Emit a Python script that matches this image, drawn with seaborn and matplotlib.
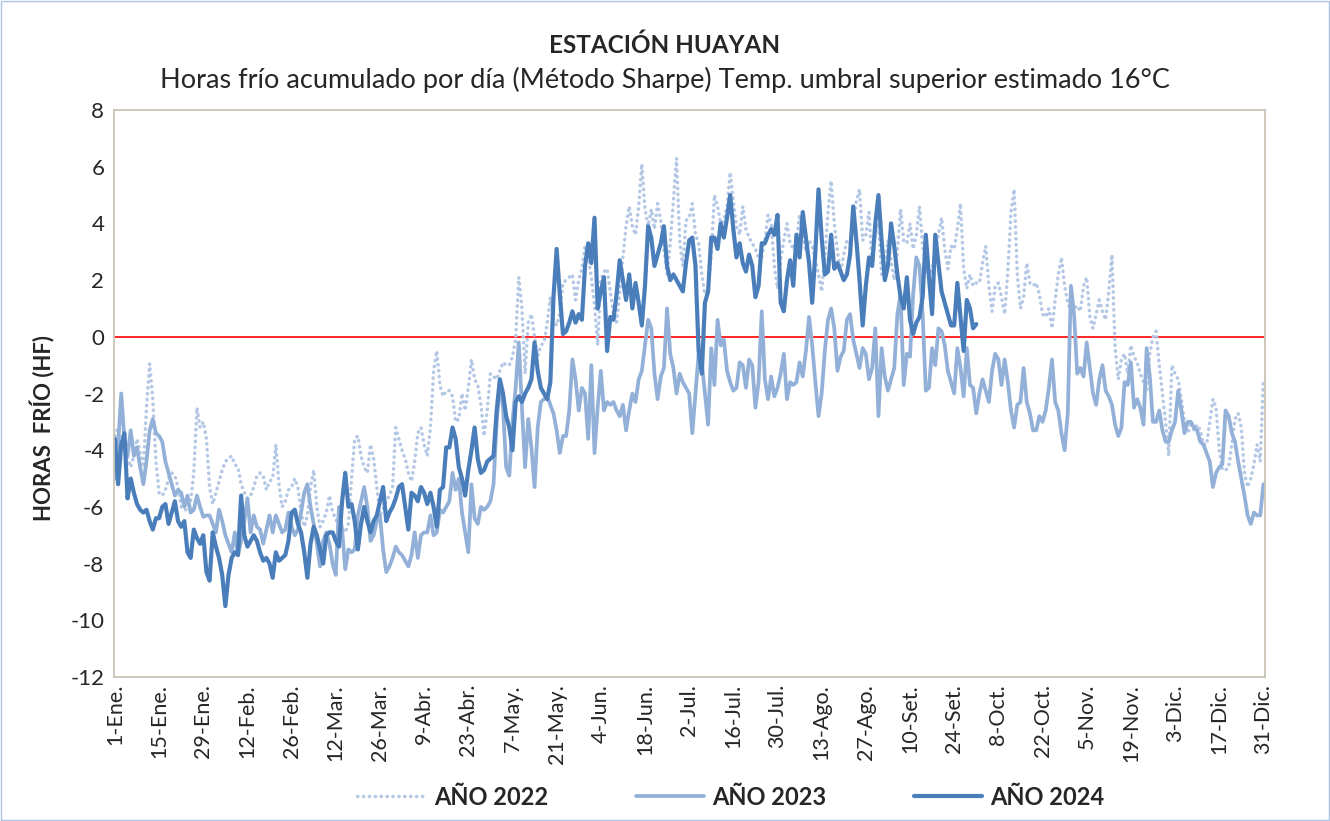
import numpy as np
import pandas as pd
import matplotlib.pyplot as plt
import seaborn as sns
from matplotlib.lines import Line2D
from matplotlib.patches import Rectangle

# etiquetas del eje x (cada 14 dias)
etiquetas = ["1-Ene.", "15-Ene.", "29-Ene.", "12-Feb.", "26-Feb.", "12-Mar.", "26-Mar.",
             "9-Abr.", "23-Abr.", "7-May.", "21-May.", "4-Jun.", "18-Jun.", "2-Jul.",
             "16-Jul.", "30-Jul.", "13-Ago.", "27-Ago.", "10-Set.", "24-Set.", "8-Oct.",
             "22-Oct.", "5-Nov.", "19-Nov.", "3-Dic.", "17-Dic.", "31-Dic."]

# horas frio por dia
hf_2022 = [
    -3.5, -3.2, -3.8, -3.9, -4.3, -4.6, -4.2, -3.6, -4.1, -4.6,
    -2.5, -0.95, -2.2, -4.4, -5.5, -5.6, -5.4, -5.0, -4.8, -4.9,
    -5.3, -6.0, -6.1, -6.1, -5.8, -4.8, -2.5, -3.2, -3.0, -3.6,
    -5.3, -5.9, -5.5, -5.1, -4.7, -4.4, -4.3, -4.2, -4.5, -4.6,
    -5.2, -5.5, -5.7, -5.6, -5.3, -4.9, -4.8, -4.9, -5.4, -5.1,
    -5.0, -3.8, -5.2, -6.0, -5.8, -5.4, -5.3, -5.0, -5.3, -6.2,
    -6.7, -6.3, -5.3, -4.7, -6.0, -6.7, -6.5, -6.2, -5.6, -6.2,
    -6.4, -6.9, -6.8, -6.9, -6.6, -5.0, -3.6, -3.5, -4.2, -4.6,
    -4.8, -3.8, -4.3, -5.3, -6.3, -6.1, -5.8, -5.6, -5.3, -3.2,
    -3.6, -4.0, -4.3, -4.8, -5.1, -4.4, -3.4, -3.2, -3.8, -4.2,
    -3.2, -1.2, -0.5, -1.7, -2.1, -1.9, -1.9, -2.1, -3.0, -2.9,
    -2.0, -2.6, -1.8, -0.8, -1.5, -1.7, -2.4, -3.5, -2.6, -1.3,
    -1.4, -1.5, -1.2, -0.9, -1.0, -1.0, -0.7, -0.1, 2.1, 1.0,
    -1.3, 0.5, 0.8, 0.0, -0.7, -0.3, -0.2, 0.5, 1.4, 0.6,
    0.4, 0.8, 1.9, 2.0, 2.1, 2.2, 1.3, 2.0, 2.4, 3.2,
    2.8, 2.1, 1.1, -0.3, 2.0, 2.3, 2.4, 1.6, 0.8, 0.5,
    1.6, 2.8, 3.9, 4.6, 3.9, 3.6, 4.6, 6.1, 4.5, 3.9,
    4.5, 3.8, 4.7, 4.1, 3.1, 2.2, 3.3, 4.8, 6.3, 3.4,
    2.5, 4.1, 4.2, 4.7, 3.6, 3.3, 2.2, 1.5, 1.6, 2.9,
    5.0, 4.6, 4.0, 4.1, 4.6, 5.8, 4.8, 3.9, 3.6, 4.6,
    3.8, 3.5, 3.3, 3.1, 2.8, 2.8, 3.4, 4.3, 4.0, 2.5,
    1.7, 2.7, 3.4, 4.0, 3.3, 3.1, 3.4, 4.3, 3.6, 3.0,
    3.4, 3.2, 2.7, 2.2, 1.6, 2.8, 4.4, 5.5, 4.0, 3.0,
    2.3, 2.9, 3.4, 3.3, 4.0, 4.8, 5.2, 3.4, 3.6, 4.4,
    2.5, 3.6, 4.0, 2.2, 2.6, 3.4, 2.7, 2.0, 3.0, 4.5,
    3.4, 3.3, 4.0, 3.1, 3.6, 4.6, 3.2, 2.5, 2.1, 2.4,
    3.0, 3.6, 4.2, 3.1, 2.4, 3.2, 3.1, 3.8, 4.7, 2.4,
    1.7, 2.2, 1.8, 1.9, 1.9, 2.6, 3.2, 1.8, 0.9, 1.8,
    1.9, 1.4, 0.8, 2.3, 4.4, 5.2, 2.2, 1.0, 1.4, 2.6,
    1.9, 1.8, 1.9, 1.5, 0.8, 0.7, 1.0, 0.3, 1.3, 2.2,
    2.8, 1.8, 1.2, 0.9, 1.0, 1.1, 0.9, 1.8, 2.1, 0.7,
    0.3, 0.8, 1.3, 0.9, 0.6, 1.6, 2.9, -0.4, -1.5, -0.8,
    -0.6, -1.3, -0.3, -0.7, -0.9, -1.3, -1.6, -1.9, -0.6, 0.0,
    0.2, -1.0, -2.0, -3.0, -4.2, -1.0, -1.3, -1.5, -2.2, -3.0,
    -3.4, -3.1, -3.3, -3.1, -3.3, -3.8, -3.8, -3.0, -2.2, -2.5,
    -4.0, -4.7, -4.7, -4.6, -3.8, -2.9, -2.7, -3.2, -4.8, -5.3,
    -5.0, -4.5, -3.8, -4.4, -1.5]

hf_2023 = [
    -5.0, -3.8, -2.0, -3.6, -4.2, -3.3, -4.2, -3.9, -4.6, -5.2,
    -4.4, -3.3, -2.9, -3.4, -3.5, -3.7, -4.4, -4.8, -5.2, -5.6,
    -5.4, -5.5, -6.0, -5.6, -6.2, -6.1, -5.6, -6.0, -6.35, -6.3,
    -6.3, -6.6, -6.9, -6.1, -6.5, -7.0, -7.3, -7.6, -6.9, -7.7,
    -7.2, -6.5, -5.7, -6.9, -6.3, -6.7, -6.8, -7.3, -6.8, -6.3,
    -6.9, -6.3, -6.6, -6.9, -6.8, -6.2, -6.7, -7.0, -6.8, -6.2,
    -5.5, -5.2, -6.0, -6.6, -7.3, -8.1, -7.2, -6.9, -7.3, -8.0,
    -8.4, -6.0, -6.8, -8.2, -7.5, -7.6, -7.5, -6.3, -5.8, -5.3,
    -6.0, -7.2, -7.0, -6.5, -6.3, -7.5, -8.3, -8.1, -7.8, -7.4,
    -7.6, -7.7, -7.9, -8.1, -7.7, -6.9, -7.8, -7.0, -6.9, -6.9,
    -6.3, -7.0, -6.9, -6.1, -6.2, -6.0, -5.8, -4.8, -5.4, -5.0,
    -6.2, -6.9, -7.6, -5.2, -6.4, -6.6, -6.0, -6.1, -6.0, -5.8,
    -5.2, -3.0, -1.6, -2.5, -4.6, -4.9, -3.0, -1.8, -0.2, -2.5,
    -4.6, -2.9, -3.9, -5.3, -3.2, -2.3, -2.2, -2.1, -2.4, -2.7,
    -3.3, -4.1, -3.5, -3.5, -2.6, -0.8, -1.5, -2.6, -1.8, -2.0,
    -3.6, -1.0, -4.1, -2.5, -1.2, -2.6, -2.3, -2.4, -2.3, -2.6,
    -2.8, -2.4, -3.3, -2.6, -2.0, -2.3, -1.5, -1.2, -0.3, 0.6,
    0.3, -1.3, -2.2, -1.4, -1.1, 1.0, -0.6, -1.1, -2.0, -1.3,
    -1.6, -1.8, -2.0, -3.4, -2.0, -0.6, -0.9, -2.0, -3.1, -0.4,
    -1.7, 0.6, -0.3, -0.1, -1.2, -1.6, -1.9, -1.8, -0.9, -1.0,
    -1.8, -0.8, -1.0, -2.5, -1.6, 0.9, -1.5, -2.2, -1.4, -2.1,
    -1.8, -1.3, -0.6, -2.2, -1.6, -1.7, -1.6, -0.9, -1.4, -0.5,
    0.7, -0.3, -1.6, -2.8, -2.0, -0.5, 0.6, 1.0, 0.3, -1.2,
    -0.7, -0.5, 0.6, 0.8, -0.1, -0.6, -1.1, -0.4, -0.6, -1.5,
    -1.1, 0.3, -2.8, -0.4, -1.4, -1.9, -1.5, -1.1, 0.8, 1.5,
    -1.7, -0.6, -0.7, 1.5, 2.8, 2.5, 0.8, -1.9, -1.8, -0.4,
    -1.0, 0.3, 0.2, -0.3, -1.2, -1.6, -2.0, -0.4, -1.1, -2.1,
    -0.4, -1.7, -1.8, -2.7, -2.0, -1.5, -1.9, -2.3, -1.2, -0.6,
    -0.8, -1.7, -0.8, -1.6, -2.6, -3.2, -2.4, -2.3, -1.1, -2.3,
    -2.7, -3.3, -3.3, -2.8, -3.0, -2.6, -1.8, -0.8, -2.3, -2.6,
    -3.4, -4.0, -2.7, 1.8, 0.8, -1.3, -1.1, -1.4, -0.2, -1.1,
    -2.0, -2.4, -1.5, -1.0, -1.9, -2.1, -2.4, -3.1, -3.5, -3.2,
    -1.6, -1.7, -0.9, -2.5, -2.2, -2.5, -3.1, -0.4, -1.4, -3.0,
    -3.0, -2.6, -3.3, -3.7, -3.7, -3.3, -3.0, -1.9, -2.6, -3.4,
    -3.0, -3.0, -3.2, -3.3, -3.7, -3.8, -4.1, -4.4, -5.3, -4.8,
    -4.6, -4.5, -2.6, -2.8, -3.4, -3.7, -4.4, -5.0, -5.6, -6.3,
    -6.6, -6.2, -6.3, -6.3, -5.2]

hf_2024 = [
    -3.6, -5.2, -3.8, -3.4, -5.7, -5.0, -5.5, -5.9, -6.1, -6.2,
    -6.1, -6.5, -6.8, -6.4, -6.4, -6.0, -5.9, -6.6, -6.2, -5.8,
    -6.5, -6.7, -6.5, -7.6, -7.8, -6.8, -7.1, -7.3, -7.0, -8.3,
    -8.6, -6.9, -7.4, -7.8, -8.4, -9.5, -8.4, -7.8, -7.6, -7.7,
    -5.6, -7.0, -7.4, -7.2, -7.0, -7.2, -7.6, -7.9, -7.8, -8.0,
    -8.5, -7.6, -7.9, -7.8, -7.7, -7.2, -6.2, -6.1, -6.6, -6.9,
    -7.6, -8.5, -7.3, -6.7, -7.0, -7.5, -8.0, -7.0, -6.9, -6.9,
    -7.2, -7.4, -5.8, -4.8, -6.0, -5.9, -6.5, -7.5, -6.6, -6.0,
    -6.5, -6.9, -6.5, -6.3, -5.8, -5.3, -6.5, -6.2, -6.0, -5.7,
    -5.3, -5.2, -6.0, -6.8, -5.5, -5.6, -5.8, -5.3, -5.5, -5.9,
    -5.5, -6.0, -6.7, -5.4, -5.3, -3.9, -3.9, -3.2, -3.6, -4.6,
    -5.0, -5.6, -4.7, -4.0, -3.2, -4.3, -4.8, -4.7, -4.4, -4.3,
    -4.2, -2.6, -1.5, -2.0, -2.8, -3.2, -4.0, -2.3, -2.1, -2.3,
    -2.0, -1.8, -1.5, -0.2, -1.2, -1.8, -2.0, -2.2, -1.6, 1.4,
    3.1, 1.5, 0.1, 0.2, 0.5, 0.9, 0.5, 0.8, 0.6, 2.5,
    3.3, 2.6, 4.2, 1.0, 1.6, 2.1, -0.5, 0.7, 0.6, 1.5,
    2.7, 2.0, 1.3, 2.2, 1.0, 1.9, 1.2, 0.4, 1.8, 3.9,
    3.5, 2.5, 2.9, 3.3, 3.9, 2.5, 2.0, 2.2, 2.0, 1.8,
    1.6, 2.6, 3.4, 3.5, 2.5, -0.5, -1.3, 1.2, 1.6, 3.5,
    3.5, 3.1, 4.0, 3.5, 4.2, 5.0, 3.8, 2.8, 3.3, 2.6,
    2.3, 2.9, 2.5, 1.4, 1.8, 3.3, 3.3, 3.6, 3.8, 3.6,
    4.3, 1.2, 0.9, 2.0, 2.7, 1.8, 3.6, 2.8, 4.4, 3.5,
    2.6, 1.2, 3.0, 5.2, 3.5, 2.2, 2.3, 3.6, 2.4, 2.6,
    2.3, 2.0, 2.2, 2.9, 4.6, 3.4, 2.0, 0.4, 1.8, 2.8,
    2.5, 4.0, 5.0, 3.4, 2.0, 2.5, 4.0, 3.2, 2.2, 1.4,
    1.0, 2.1, 0.6, 0.1, 0.5, 0.7, 1.4, 3.6, 2.1, 0.8,
    3.6, 2.6, 1.6, 1.2, 0.8, 0.4, 0.4, 1.9, 0.7, -0.5,
    1.3, 1.0, 0.3, 0.45]

c22 = "#b4c8e6"
c23 = "#93b1d8"
c24 = "#4a7ebb"
punteado = (0, (0.1, 1.6))

sns.set_theme(style="white")
plt.rcParams['font.family'] = ['Lato', 'DejaVu Sans']
plt.rcParams['axes.unicode_minus'] = False

df22 = pd.DataFrame({"dia": np.arange(len(hf_2022)), "hf": hf_2022})
df23 = pd.DataFrame({"dia": np.arange(len(hf_2023)), "hf": hf_2023})
df24 = pd.DataFrame({"dia": np.arange(len(hf_2024)), "hf": hf_2024})

fig = plt.figure(figsize=(13.3, 8.21), dpi=100)
ax = fig.add_axes([0.0857, 0.1754, 0.8654, 0.6906])

sns.lineplot(data=df22, x="dia", y="hf", ax=ax, color=c22, lw=2.5,
             linestyle=punteado, dash_capstyle="round")
sns.lineplot(data=df23, x="dia", y="hf", ax=ax, color=c23, lw=2.7)
sns.lineplot(data=df24, x="dia", y="hf", ax=ax, color=c24, lw=3.0)
ax.axhline(0, color="#ff0000", lw=1.2, zorder=1)

ax.set_xlim(-0.3, 364.5)
ax.set_ylim(-12, 8)
ax.set_yticks(range(-12, 9, 2))
ax.set_xticks(range(0, 365, 14))
ax.set_xticklabels(etiquetas, rotation=90, fontsize=15.5)
ax.tick_params(axis="y", labelsize=16, length=0, pad=7)
ax.tick_params(axis="x", length=0, pad=5)
ax.set_xlabel("")
ax.set_ylabel("HORAS  FRÍO (HF)", fontsize=16, fontweight="bold")
ax.yaxis.set_label_coords(-0.051, 0.44)
for s in ax.spines.values():
    s.set_color("#c9c3b6")
    s.set_linewidth(1.3)

fig.text(0.5, 1 - 45 / 821, "ESTACIÓN HUAYAN", ha="center", va="center",
         fontsize=17.5, fontweight="bold")
fig.text(0.5, 1 - 80 / 821,
         "Horas frío acumulado por día (Método Sharpe) Temp. umbral superior estimado 16°C",
         ha="center", va="center", fontsize=19.5)

handles = [Line2D([], [], color=c22, lw=2.5, linestyle=punteado, dash_capstyle="round"),
           Line2D([], [], color=c23, lw=2.7),
           Line2D([], [], color=c24, lw=3.0)]
fig.legend(handles, ["AÑO 2022", "AÑO 2023", "AÑO 2024"], loc="center",
           bbox_to_anchor=(0.5496, 0.029), ncol=3, frameon=False,
           prop={"weight": "bold", "size": 17}, handlelength=2.9,
           columnspacing=3.7, handletextpad=0.35)

fig.patches.append(Rectangle((0.001, 0.001), 0.998, 0.998, transform=fig.transFigure,
                             fill=False, edgecolor="#a9c4e4", lw=1))

fig.savefig("out.png", dpi=100)
